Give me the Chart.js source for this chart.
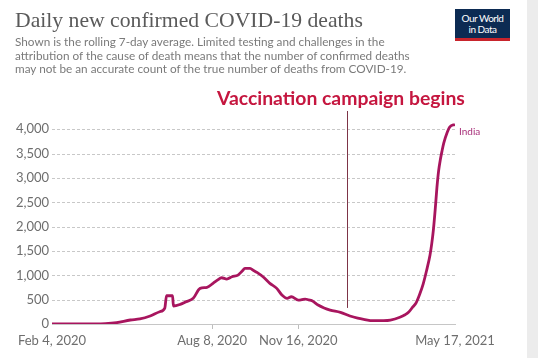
<!DOCTYPE html>
<html><head><meta charset="utf-8">
<script src="https://cdn.jsdelivr.net/npm/chart.js@4"></script>
<style>
html,body{margin:0;padding:0;background:#fff;width:538px;height:358px;overflow:hidden;position:relative}
#c{position:absolute;left:0;top:0}
.t{position:absolute;white-space:nowrap}
#title{left:15px;top:8px;font-family:"Liberation Serif",serif;font-size:25px;line-height:25px;color:#5a5a5a}
#sub{left:15px;top:35px;font-family:Lato,sans-serif;font-size:12px;line-height:13.5px;color:#7a7a7a}
#logo{left:455px;top:9px;width:55px;height:32px;background:#0c2b53;border-bottom:3px solid #c8242c;box-sizing:border-box;color:#fff;font-family:Lato,sans-serif;font-size:10px;line-height:10.5px;text-align:center;padding-top:4px;letter-spacing:-0.5px}
#ann{left:217px;top:88px;font-family:Lato,sans-serif;font-weight:bold;font-size:17px;line-height:20px;color:#c5163f}
#edge{position:absolute;left:527px;top:0;width:11px;height:358px;background:#ececec}
</style></head><body>
<canvas id="c" width="538" height="358"></canvas>
<div class="t" id="title">Daily new confirmed COVID-19 deaths</div>
<div class="t" id="sub"><span id="s1">Shown is the rolling 7-day average. Limited testing and challenges in the</span><br><span id="s2">attribution of the cause of death means that the number of confirmed deaths</span><br><span id="s3">may not be an accurate count of the true number of deaths from COVID-19.</span></div>
<div class="t" id="logo">Our World<br>in Data</div>
<div class="t" id="ann">Vaccination campaign begins</div>
<div id="edge"></div>
<script>
// Days since Feb 4, 2020
const dayOffsets = [0, 50, 62, 75, 91, 102, 114, 125, 131, 133, 140, 141, 149, 156, 164, 172, 180, 187, 192, 197, 203, 209, 216, 221, 224, 230, 234, 238, 245, 253, 261, 267, 273, 278, 286, 290, 294, 298, 302, 309, 316, 323, 335, 346, 355, 362, 373, 385, 393, 404, 410, 414, 419, 423, 427, 431, 435, 439, 441, 443, 445, 447, 449, 451, 453, 455, 459, 462, 468];
const deaths     = [0, 0, 5, 27, 82, 103, 164, 252, 328, 580, 580, 370, 404, 460, 527, 732, 753, 835, 900, 950, 923, 970, 1005, 1090, 1142, 1142, 1100, 1060, 970, 835, 732, 595, 527, 560, 492, 500, 513, 495, 478, 390, 330, 287, 240, 164, 120, 96, 68, 70, 82, 140, 190, 240, 350, 440, 610, 820, 1100, 1420, 1650, 1950, 2350, 2800, 3150, 3380, 3560, 3720, 3940, 4050, 4100];
const seriesName = "India";
const tickDays = [0, 186, 286, 468];
const tickLabels = ["Feb 4, 2020", "Aug 8, 2020", "Nov 16, 2020", "May 17, 2021"];
const yTickValues = [0, 500, 1000, 1500, 2000, 2500, 3000, 3500, 4000];
const vaccinationDay = 343;
const vaccinationLineEnd = 330;

function fit(el, target){
  const cs = getComputedStyle(el);
  const cv = document.createElement('canvas').getContext('2d');
  cv.font = cs.fontWeight + ' ' + cs.fontSize + ' ' + cs.fontFamily;
  const w = cv.measureText(el.textContent).width;
  return parseFloat(cs.fontSize) * target / w;
}
const tEl = document.getElementById('title');
tEl.style.fontSize = fit(tEl, 348) + 'px';
const s2 = document.getElementById('s2');
document.getElementById('sub').style.fontSize = fit(s2, 396) + 'px';
const aEl = document.getElementById('ann');
aEl.style.fontSize = fit(aEl, 248) + 'px';

const vaccPlugin = {
  id: 'vacc',
  beforeDatasetsDraw(chart){
    // dashed horizontal gridlines at the y ticks
    const {ctx, chartArea, scales:{y}} = chart;
    ctx.save();
    ctx.strokeStyle = '#c8c8c8';
    ctx.lineWidth = 1;
    ctx.setLineDash([3, 2]);
    y.ticks.forEach(t => {
      if (t.value === 0) return;
      const py = Math.round(y.getPixelForValue(t.value)) + 0.5;
      ctx.beginPath();
      ctx.moveTo(chartArea.left, py);
      ctx.lineTo(chartArea.right, py);
      ctx.stroke();
    });
    ctx.restore();
  },
  afterDatasetsDraw(chart){
    const {ctx, scales:{x, y}} = chart;
    const px = Math.round(x.getPixelForValue(vaccinationDay)) + 0.5;
    ctx.save();
    ctx.strokeStyle = '#7d3447';
    ctx.lineWidth = 1;
    ctx.beginPath();
    ctx.moveTo(px, 111);
    ctx.lineTo(px, y.getPixelForValue(vaccinationLineEnd));
    ctx.stroke();
    const meta = chart.getDatasetMeta(0);
    const last = meta.data[meta.data.length - 1];
    ctx.fillStyle = '#a8307a';
    ctx.font = '10px Lato';
    ctx.textBaseline = 'middle';
    ctx.fillText(seriesName, last.x + 4, last.y + 7);
    ctx.restore();
  }
};

new Chart(document.getElementById('c'), {
  type: 'line',
  data: {
    datasets: [{
      label: seriesName,
      data: dayOffsets.map((d, i) => ({x: d, y: deaths[i]})),
      borderColor: '#a8155e',
      borderWidth: 2.8,
      pointRadius: 0,
      cubicInterpolationMode: 'monotone',
      fill: false
    }]
  },
  options: {
    responsive: false,
    animation: false,
    devicePixelRatio: 1,
    layout: {padding: {top: 122, right: 83, bottom: 0, left: 0}},
    plugins: {legend: {display: false}, tooltip: {enabled: false}},
    scales: {
      x: {
        type: 'linear', min: 0, max: 468,
        afterBuildTicks: s => { s.ticks = tickDays.map(v => ({value: v})); },
        afterFit: s => { s.height = 34; },
        ticks: {
          autoSkip: false, maxRotation: 0, padding: 4,
          color: '#6e6e6e', font: {family: 'Lato', size: 13},
          callback: (v, i) => tickLabels[i]
        },
        grid: {
          drawOnChartArea: false, drawTicks: true, tickLength: 5,
          color: ctx => (ctx.index === 0 || ctx.index === tickDays.length - 1) ? 'rgba(0,0,0,0)' : '#bdbdbd'
        },
        border: {display: true, color: '#c6c6c6', width: 1}
      },
      y: {
        min: 0, max: 4150,
        afterBuildTicks: s => { s.ticks = yTickValues.map(v => ({value: v})); },
        afterFit: s => { s.width = 52; },
        ticks: {
          padding: 3, color: '#6e6e6e', font: {family: 'Lato', size: 13},
          callback: v => v.toLocaleString('en-US')
        },
        grid: {display: false, drawTicks: false},
        border: {display: false}
      }
    }
  },
  plugins: [vaccPlugin]
});
</script>
</body></html>
